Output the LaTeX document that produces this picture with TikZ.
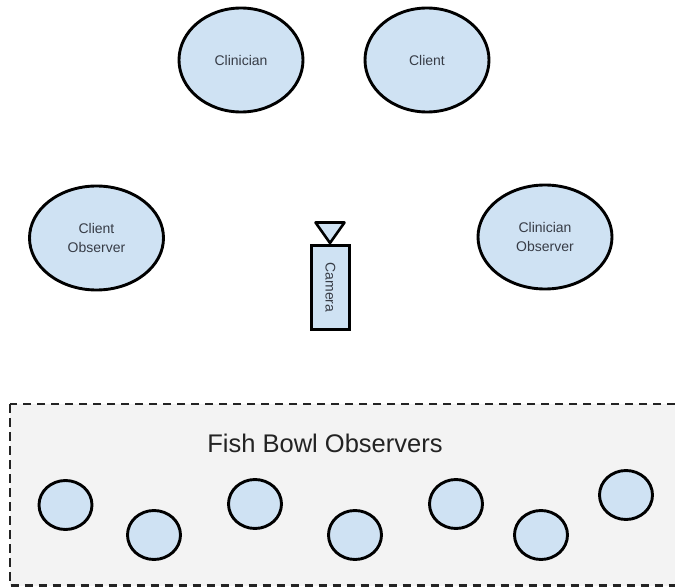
\documentclass[tikz,border=0pt]{standalone}
\usepackage{fontspec}
\setmainfont{Liberation Sans}
\usetikzlibrary{shapes.geometric}
\definecolor{lblue}{RGB}{207,226,243}
\definecolor{boxgray}{RGB}{243,243,243}
\definecolor{txt}{RGB}{55,60,70}
\tikzset{
  person/.style={ellipse, draw=black, line width=2.9pt, fill=lblue, text=txt,
    font=\fontsize{14}{18.5}\selectfont, align=center, inner sep=0pt},
  big/.style={person, minimum width=124pt, minimum height=104pt},
  side/.style={person, minimum width=134pt, minimum height=104pt},
  fish/.style={person, minimum width=53pt, minimum height=49pt},
}
\begin{document}
\begin{tikzpicture}[x=1pt,y=-1pt]
\useasboundingbox (0,0) rectangle (675,588);
\clip (0,0) rectangle (675,588);
% fish bowl area
\draw[fill=boxgray, draw={rgb,255:red,35;green,35;blue,35}, line width=2.6pt, dash pattern=on 8.5pt off 5.5pt]
  (10,404) rectangle (700,585.5);
\node[font=\fontsize{25.5}{30}\selectfont, text={rgb,255:red,35;green,35;blue,35}] (fbo) at (325,443) {Fish Bowl Observers};
% top
\node[big] (clinician) at (241,60) {Clinician};
\node[big] (client) at (427,60) {Client};
\node[side] (cobs) at (96.5,238) {Client\\Observer};
\node[side] (clobs) at (545,237) {Clinician\\Observer};
% camera
\node[draw=black, line width=2.6pt, fill=lblue, minimum width=38pt, minimum height=84pt, inner sep=0pt] (cam) at (330.5,287.5) {};
\node[rotate=-90, text=txt, font=\fontsize{14}{16}\selectfont] (camtext) at (cam.center) {Camera};
\draw[line width=2.6pt, fill=lblue, line join=round] (315.5,222.5) -- (344.5,222.5) -- (330,243) -- cycle;
% fish bowl observers
\node[fish] (f1) at (65.5,505) {};
\node[fish] (f2) at (154,535) {};
\node[fish] (f3) at (255,504) {};
\node[fish] (f4) at (355,535) {};
\node[fish] (f5) at (456,504) {};
\node[fish] (f6) at (541,535) {};
\node[fish] (f7) at (626,495) {};
\end{tikzpicture}
\end{document}
